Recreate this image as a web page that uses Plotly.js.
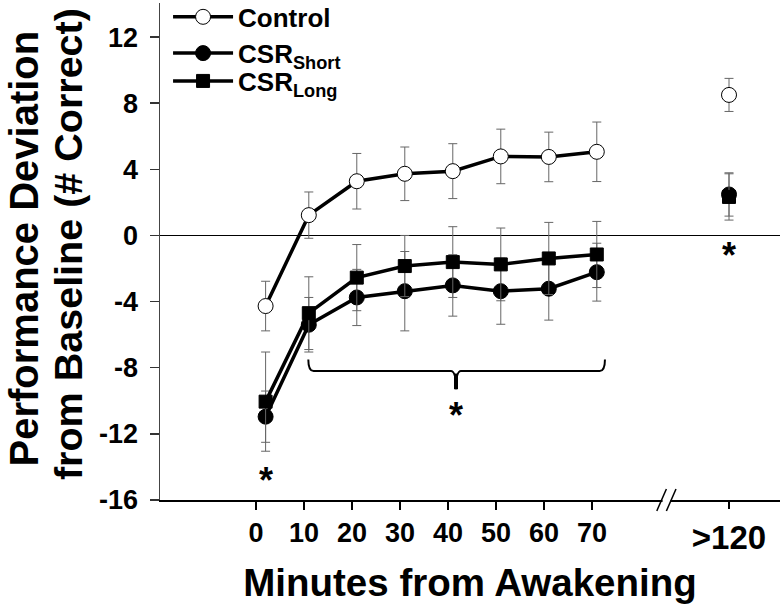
<!DOCTYPE html>
<html>
<head>
<meta charset="utf-8">
<script src="https://cdn.plot.ly/plotly-3.0.1.min.js"></script>
<style>html,body{margin:0;padding:0;background:#fff;}#chart{width:780px;height:610px;}</style>
</head>
<body>
<div id="chart"></div>
<script>
// ---- data ----
const minutes = [2, 11, 21, 31, 41, 51, 61, 71];
const xTicks = [0, 10, 20, 30, 40, 50, 60, 70];
const lateLabel = ['>120'];

const controlMean = [-4.27, 1.23, 3.28, 3.73, 3.89, 4.78, 4.75, 5.06];
const controlErr  = [1.5, 1.4, 1.68, 1.62, 1.66, 1.65, 1.5, 1.8];
const shortMean   = [-10.96, -5.4, -3.75, -3.37, -3.02, -3.37, -3.22, -2.22];
const shortErr    = [1.55, 1.65, 1.7, 2.4, 1.86, 2.0, 1.9, 1.75];
const longMean    = [-10.05, -4.7, -2.55, -1.85, -1.61, -1.75, -1.39, -1.15];
const longErr     = [3.0, 2.2, 2.0, 1.85, 2.14, 2.2, 2.18, 2.0];

const lateControl = [8.5],  lateControlErr = [1.0];
const lateShort   = [2.48], lateShortErr   = [1.31];
const lateLong    = [2.33], lateLongErr    = [1.4];

const yTicks = [-16, -12, -8, -4, 0, 4, 8, 12];
const yTitleLines = ['Performance Deviation', 'from Baseline (# Correct)'];

// ---- styling ----
const FONT = 'Arial, "Liberation Sans", Helvetica, sans-serif';
const errStyle = (arr) => ({type: 'data', array: arr, visible: true, color: '#666', thickness: 1, width: 4.5});

const series = [
  {name: 'Control', legend: 'legend', mean: controlMean, err: controlErr, late: lateControl, lateErr: lateControlErr,
   marker: {symbol: 'circle', size: 15, color: '#fff', line: {color: '#000', width: 1}}},
  {name: 'CSR<sub>Short</sub>', legend: 'legend2', mean: shortMean, err: shortErr, late: lateShort, lateErr: lateShortErr,
   marker: {symbol: 'circle', size: 15, color: '#000', line: {color: '#000', width: 1}}},
  {name: 'CSR<sub>Long</sub>', legend: 'legend3', mean: longMean, err: longErr, late: lateLong, lateErr: lateLongErr,
   marker: {symbol: 'square', size: 13, color: '#000', line: {color: '#000', width: 1}}}
];

const traces = [];
series.forEach((s, i) => {
  traces.push({
    type: 'scatter', mode: 'lines+markers', name: s.name,
    legend: s.legend, legendgroup: 'g' + i,
    x: minutes, y: s.mean, xaxis: 'x', yaxis: 'y',
    line: {color: '#000', width: 3.5},
    marker: s.marker,
    error_y: errStyle(s.err),
    cliponaxis: false
  });
});
series.forEach((s, i) => {
  traces.push({
    type: 'scatter', mode: 'markers', name: s.name, showlegend: false,
    legend: s.legend, legendgroup: 'g' + i,
    x: lateLabel, y: s.late, xaxis: 'x2', yaxis: 'y',
    marker: s.marker,
    error_y: errStyle(s.lateErr),
    cliponaxis: false
  });
});

const tickFontX = {family: FONT, size: 27, color: '#000', weight: 700};
const tickFontY = {family: FONT, size: 27, color: '#000', weight: 700};
const starFont = {family: FONT, size: 36, color: '#000', weight: 700};
const legendBase = (yc) => ({
  x: 0.013, y: yc, xanchor: 'left', yanchor: 'middle',
  bgcolor: 'rgba(0,0,0,0)', borderwidth: 0, itemwidth: 60,
  font: {family: FONT, size: 26, color: '#000', weight: 700}
});

const layout = {
  width: 780, height: 610,
  margin: {l: 160, r: 0, t: 3, b: 110, autoexpand: false},
  paper_bgcolor: '#fff', plot_bgcolor: '#fff',
  font: {family: FONT, color: '#000'},
  showlegend: true,
  legend: legendBase(0.972),
  legend2: legendBase(0.899),
  legend3: legendBase(0.843),
  xaxis: {
    domain: [0, 1], range: [-20, 109.17],
    tickmode: 'array', tickvals: xTicks, ticktext: xTicks.map(String),
    ticks: 'outside', ticklen: 8, tickwidth: 1.5, tickcolor: '#000',
    showline: true, linecolor: '#000', linewidth: 1.5,
    showgrid: false, zeroline: false,
    tickfont: tickFontX,
    title: {text: 'Minutes from Awakening', font: {family: FONT, size: 38.5, color: '#000', weight: 700}, standoff: 22}
  },
  xaxis2: {
    domain: [0.8194, 1], anchor: 'y', type: 'category',
    range: [-0.5446, 0.4554],
    ticks: 'outside', ticklen: 8, tickwidth: 1.5, tickcolor: '#000',
    showline: false, showgrid: false, zeroline: false,
    tickfont: {family: FONT, size: 33, color: '#000', weight: 700}
  },
  yaxis: {
    range: [-16, 14.06],
    tickmode: 'array', tickvals: yTicks, ticktext: yTicks.map(String),
    ticks: 'outside', ticklen: 9, tickwidth: 1.5, tickcolor: '#333',
    ticklabelstandoff: 6,
    showline: true, linecolor: '#444', linewidth: 1.5,
    showgrid: false,
    zeroline: true, zerolinecolor: '#000', zerolinewidth: 1.5,
    tickfont: tickFontY
  },
  shapes: [
    // significance bracket over 10-70 min
    {type: 'path', xref: 'x', yref: 'y', layer: 'above',
     path: 'M 10.9,-7.5 Q 10.9,-8.2 12.0,-8.2 L 40.6,-8.2 Q 41.67,-8.2 41.67,-9.3 Q 41.67,-8.2 42.7,-8.2 L 71.6,-8.2 Q 72.7,-8.2 72.7,-7.5',
     line: {color: '#000', width: 2}},
    {type: 'line', xref: 'x', yref: 'y', layer: 'above', x0: 41.67, x1: 41.67, y0: -8.35, y1: -9.3,
     line: {color: '#000', width: 4}},
    // axis break marks
    {type: 'rect', xref: 'x', yref: 'paper', layer: 'above', x0: 84.7, x1: 86.3, y0: -0.004, y1: 0.004,
     fillcolor: '#fff', line: {width: 0}},
    {type: 'line', xref: 'x', yref: 'paper', layer: 'above', x0: 83.5, x1: 85.5, y0: -0.022, y1: 0.022,
     line: {color: '#000', width: 1.5}},
    {type: 'line', xref: 'x', yref: 'paper', layer: 'above', x0: 85.5, x1: 87.5, y0: -0.022, y1: 0.022,
     line: {color: '#000', width: 1.5}}
  ],
  annotations: [
    {xref: 'paper', yref: 'paper', x: -0.2194, y: 0.506, xanchor: 'center', yanchor: 'middle', textangle: -90,
     text: yTitleLines[0], showarrow: false, font: {family: FONT, size: 40, color: '#000', weight: 700}},
    {xref: 'paper', yref: 'paper', x: -0.1484, y: 0.515, xanchor: 'center', yanchor: 'middle', textangle: -90,
     text: yTitleLines[1], showarrow: false, font: {family: FONT, size: 39.5, color: '#000', weight: 700}},
    {xref: 'x', yref: 'y', x: 2, y: -14.85, text: '*', showarrow: false, font: starFont},
    {xref: 'x', yref: 'y', x: 41.67, y: -10.9, text: '*', showarrow: false, font: starFont},
    {xref: 'x2', yref: 'y', x: 0, y: -1.2, text: '*', showarrow: false, font: starFont}
  ]
};

Plotly.newPlot('chart', traces, layout, {staticPlot: true, displayModeBar: false});
</script>
</body>
</html>
